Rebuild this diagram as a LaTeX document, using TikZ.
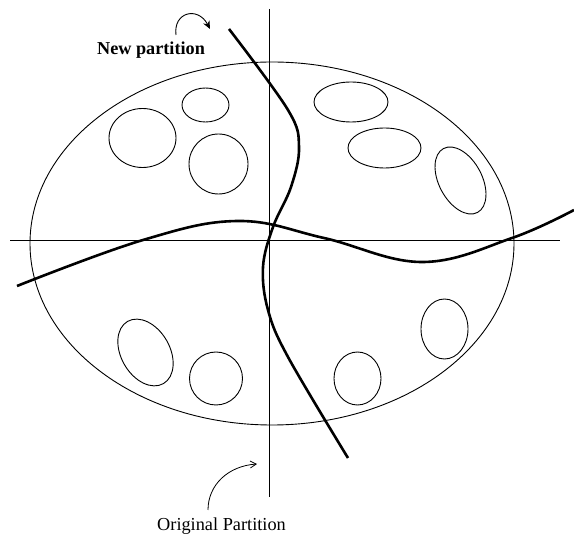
\documentclass[tikz,border=0pt]{standalone}
\usepackage{fontspec}
\setmainfont{Liberation Serif}
\usetikzlibrary{arrows.meta}
\begin{document}
\begin{tikzpicture}[x=1pt,y=-1pt,
  thinline/.style={line width=0.9pt},
  part/.style={line width=2.6pt},
  blob/.style={line width=0.9pt},
  lbl/.style={inner sep=0pt,font=\fontsize{18.3}{20}\selectfont}]
\useasboundingbox (0,0) rectangle (574,534);
% axes (original partition)
\coordinate (hl) at (10,240);
\coordinate (hr) at (560,240);
\coordinate (vt) at (269,9);
\coordinate (vb) at (269,497);
\draw[thinline] (hl) -- (hr);
\draw[thinline] (vt) -- (vb);
% big ellipse
\draw[thinline] (272,243.5) ellipse (242 and 181.5);
% small blobs
\draw[blob] (205.5,105) ellipse (23.5 and 17);
\draw[blob] (142.5,138) ellipse (33.5 and 29.5);
\draw[blob] (218.5,164) ellipse (29.5 and 30);
\draw[blob] (351,102) ellipse (37 and 20);
\draw[blob] (384.5,148) ellipse (36.5 and 20);
\draw[blob,rotate around={28:(460.5,180.5)}] (460.5,180.5) ellipse (21.5 and 36.2);
\draw[blob,rotate around={30:(145.5,352.5)}] (145.5,352.5) ellipse (24.3 and 35.9);
\draw[blob] (216,378.5) ellipse (26.5 and 26.5);
\draw[blob] (357.5,378.5) ellipse (23.5 and 26.5);
\draw[blob] (444.5,329) ellipse (23.5 and 30);
% new partition curves
\draw[part,line cap=butt] plot[smooth,tension=0.65] coordinates
  {(17,286) (143,240) (238,221) (324,238) (422,262) (512,238) (574,210)};
\draw[part,line cap=butt] plot[smooth,tension=0.6] coordinates
  {(229,29) (288,110) (299,147) (291,187) (273,227) (263,267) (268,310) (288,357) (348,458)};
% labels
\node[lbl,anchor=base west,font=\fontsize{18.2}{20}\selectfont\bfseries] (newlbl) at (97,55) {New partition};
\node[lbl,anchor=base] (origlbl) at (221.5,531) {Original Partition};
% label arrows
\coordinate (na) at (176,35);
\coordinate (nb) at (210,29);
\draw[line width=0.9pt,-{Stealth[length=8pt,width=7pt]}] (na) .. controls (173,12) and (198,6) .. (nb);
\coordinate (oa) at (208,510);
\coordinate (ob) at (257,464);
\draw[line width=0.8pt,-{Straight Barb[length=6pt,width=7pt]}] (oa) .. controls (208,485) and (228,466) .. (ob);
\end{tikzpicture}
\end{document}
